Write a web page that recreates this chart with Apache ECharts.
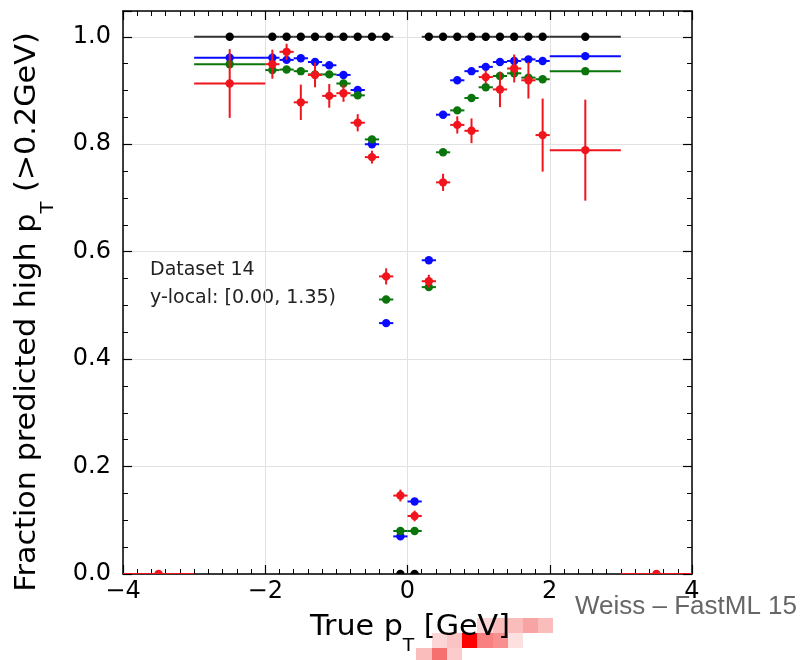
<!DOCTYPE html>
<html>
<head>
<meta charset="utf-8">
<title>Fraction predicted high pT</title>
<script src="https://cdn.jsdelivr.net/npm/echarts@6/dist/echarts.min.js"></script>
<style>
html, body { margin: 0; padding: 0; background: #fff; }
#main { width: 802px; height: 660px; }
</style>
</head>
<body>
<div id="main"></div>
<script>
// bin centres and half widths (GeV)
const xCenters = [-3.5, -2.5, -1.9, -1.7, -1.5, -1.3, -1.1, -0.9, -0.7, -0.5, -0.3, -0.1,
                  0.1, 0.3, 0.5, 0.7, 0.9, 1.1, 1.3, 1.5, 1.7, 1.9, 2.5, 3.5];
const xHalfWidths = [0.5, 0.5, 0.1, 0.1, 0.1, 0.1, 0.1, 0.1, 0.1, 0.1, 0.1, 0.1,
                     0.1, 0.1, 0.1, 0.1, 0.1, 0.1, 0.1, 0.1, 0.1, 0.1, 0.5, 0.5];

// fraction predicted high pT, per series
const blackValues = [null, 1, 1, 1, 1, 1, 1, 1, 1, 1, 1, 0,
                     0, 1, 1, 1, 1, 1, 1, 1, 1, 1, 1, null];
const blueValues = [null, 0.961, 0.961, 0.957, 0.960, 0.953, 0.947, 0.929, 0.901, 0.800, 0.467, 0.070,
                    0.135, 0.584, 0.855, 0.919, 0.936, 0.944, 0.953, 0.955, 0.958, 0.955, 0.964, null];
const greenValues = [null, 0.949, 0.938, 0.939, 0.936, 0.930, 0.930, 0.913, 0.891, 0.809, 0.511, 0.080,
                     0.080, 0.534, 0.785, 0.863, 0.886, 0.906, 0.927, 0.932, 0.924, 0.921, 0.936, null];
const redValues = [0, 0.913, 0.949, 0.972, 0.878, 0.929, 0.890, 0.895, 0.840, 0.776, 0.554, 0.146,
                   0.108, 0.545, 0.729, 0.836, 0.825, 0.925, 0.902, 0.941, 0.919, 0.817, 0.789, 0];
const redErrors = [0, 0.064, 0.027, 0.015, 0.033, 0.023, 0.022, 0.016, 0.016, 0.012, 0.015, 0.011,
                   0.010, 0.012, 0.016, 0.016, 0.023, 0.012, 0.033, 0.026, 0.034, 0.068, 0.094, 0];

const yTicks = [0, 0.2, 0.4, 0.6, 0.8, 1.0];

const FONT = 'DejaVu Sans';

function toData(values, errors) {
    const out = [];
    values.forEach((v, i) => {
        if (v === null) return;
        out.push([xCenters[i], v, xHalfWidths[i], errors ? errors[i] : 0]);
    });
    return out;
}

function errSeries(name, values, errors, color, lineColor) {
    return {
        name: name,
        type: 'custom',
        xAxisIndex: 0,
        yAxisIndex: 0,
        clip: true,
        data: toData(values, errors),
        renderItem: function (params, api) {
            const x = api.value(0), y = api.value(1), dx = api.value(2), dy = api.value(3);
            const c = api.coord([x, y]);
            const l = api.coord([x - dx, y]);
            const r = api.coord([x + dx, y]);
            const children = [{
                type: 'line',
                shape: { x1: l[0], y1: l[1], x2: r[0], y2: r[1] },
                style: { stroke: lineColor || color, lineWidth: 2 }
            }];
            if (dy > 0) {
                const t = api.coord([x, y + dy]);
                const b = api.coord([x, y - dy]);
                children.push({
                    type: 'line',
                    shape: { x1: t[0], y1: t[1], x2: b[0], y2: b[1] },
                    style: { stroke: color, lineWidth: 2 }
                });
            }
            children.push({
                type: 'circle',
                shape: { cx: c[0], cy: c[1], r: 4.2 },
                style: { fill: color }
            });
            return { type: 'group', children: children };
        }
    };
}

const axisLineStyle = { color: '#000', width: 1.5 };

function xAxisDef(pos) {
    return {
        type: 'value', min: -4, max: 4, interval: 2, position: pos,
        axisLine: { show: true, onZero: false, lineStyle: axisLineStyle },
        axisTick: { show: true, inside: true, length: 9, lineStyle: { color: '#000', width: 1.2 } },
        minorTick: { show: true, splitNumber: 10, length: 5, lineStyle: { color: '#000', width: 1 } },
        axisLabel: pos === 'bottom' ? {
            fontFamily: FONT, fontSize: 24, color: '#000', margin: 6,
            formatter: v => String(v).replace('-', '\u2212')
        } : { show: false },
        splitLine: { show: pos === 'bottom', lineStyle: { color: '#e2e2e2', width: 1 } }
    };
}

function yAxisDef(pos, minor) {
    return {
        type: 'value', min: 0, max: 1.048, interval: minor ? 0.05 : 0.2, position: pos,
        axisLine: { show: !minor, onZero: false, lineStyle: axisLineStyle },
        axisTick: { show: true, inside: true, length: minor ? 5 : 9,
                    lineStyle: { color: '#000', width: minor ? 1 : 1.2 } },
        axisLabel: (pos === 'left' && !minor) ? {
            fontFamily: FONT, fontSize: 24, color: '#000', margin: 12,
            formatter: v => yTicks.some(t => Math.abs(t - v) < 1e-6) ? v.toFixed(1) : ''
        } : { show: false },
        splitLine: { show: pos === 'left' && !minor, lineStyle: { color: '#e2e2e2', width: 1 } }
    };
}

const chart = echarts.init(document.getElementById('main'));
chart.setOption({
    animation: false,
    backgroundColor: '#fff',
    grid: { left: 123, right: 110, top: 11, bottom: 86 },
    xAxis: [xAxisDef('bottom'), xAxisDef('top')],
    yAxis: [yAxisDef('left', false), yAxisDef('left', true), yAxisDef('right', false), yAxisDef('right', true)],
    series: [
        errSeries('black', blackValues, null, '#000', '#333'),
        errSeries('blue', blueValues, null, '#0a0aff'),
        errSeries('green', greenValues, null, '#0a750a'),
        errSeries('red', redValues, redErrors, '#f0141c')
    ],
    graphic: [
        // leftover pixel blocks under the x title
        { type: 'rect', shape: { x: 477, y: 618, width: 16, height: 15 }, style: { fill: '#fcd6d6' } },
        { type: 'rect', shape: { x: 493, y: 618, width: 15, height: 15 }, style: { fill: '#fbbcbc' } },
        { type: 'rect', shape: { x: 508, y: 618, width: 15, height: 15 }, style: { fill: '#fbbcbc' } },
        { type: 'rect', shape: { x: 523, y: 618, width: 15, height: 15 }, style: { fill: '#f9a4a4' } },
        { type: 'rect', shape: { x: 538, y: 618, width: 15, height: 15 }, style: { fill: '#fbbcbc' } },
        { type: 'rect', shape: { x: 432, y: 633, width: 15, height: 15 }, style: { fill: '#fcd6d6' } },
        { type: 'rect', shape: { x: 447, y: 633, width: 15, height: 15 }, style: { fill: '#fbc4c4' } },
        { type: 'rect', shape: { x: 462, y: 633, width: 15, height: 15 }, style: { fill: '#ff0000' } },
        { type: 'rect', shape: { x: 477, y: 633, width: 16, height: 15 }, style: { fill: '#f98080' } },
        { type: 'rect', shape: { x: 493, y: 633, width: 15, height: 15 }, style: { fill: '#f99090' } },
        { type: 'rect', shape: { x: 508, y: 633, width: 15, height: 15 }, style: { fill: '#fde0e0' } },
        { type: 'rect', shape: { x: 416, y: 648, width: 16, height: 12 }, style: { fill: '#fbbcbc' } },
        { type: 'rect', shape: { x: 432, y: 648, width: 15, height: 12 }, style: { fill: '#f77070' } },
        { type: 'rect', shape: { x: 447, y: 648, width: 15, height: 12 }, style: { fill: '#fccccc' } },
        {
            type: 'text', left: 150, top: 261,
            style: { text: 'Dataset 14', font: '19px "DejaVu Sans"', fill: '#222' }
        },
        {
            type: 'text', left: 150, top: 289,
            style: { text: 'y-local: [0.00, 1.35)', font: '19px "DejaVu Sans"', fill: '#222' }
        },
        {
            type: 'text', x: 575, y: 607,
            style: { text: 'Weiss \u2013 FastML 15', font: '26px "Liberation Sans"', fill: '#666',
                     align: 'left', verticalAlign: 'middle' }
        },
        {
            type: 'text', x: 410, y: 627, scaleX: 1.04,
            style: {
                text: '{a|True p}{s|T}{a| [GeV]}',
                align: 'center', verticalAlign: 'middle',
                rich: {
                    a: { fontFamily: FONT, fontSize: 29, lineHeight: 34, fill: '#000' },
                    s: { fontFamily: FONT, fontSize: 18, lineHeight: 18, padding: [38, 0, 0, 0], fill: '#000' }
                }
            }
        },
        {
            type: 'text', x: 28, y: 312, rotation: Math.PI / 2, scaleX: 1.08,
            style: {
                text: '{a|Fraction predicted high p}{s|T}{a| (>0.2GeV)}',
                align: 'center', verticalAlign: 'middle',
                rich: {
                    a: { fontFamily: FONT, fontSize: 28, lineHeight: 34, fill: '#000' },
                    s: { fontFamily: FONT, fontSize: 18, lineHeight: 18, padding: [40, 0, 0, 0], fill: '#000' }
                }
            }
        }
    ]
});
</script>
</body>
</html>
